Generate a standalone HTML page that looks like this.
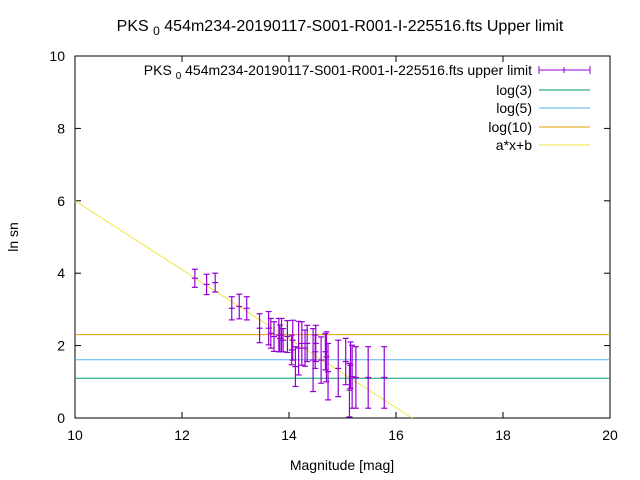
<!DOCTYPE html>
<html><head><meta charset="utf-8"><style>
body{margin:0;background:#fff}
svg{display:block;font-family:"Liberation Sans",sans-serif}
</style></head><body>
<svg id="chart" width="640" height="480" viewBox="0 0 640 480">
<text x="340" y="31" font-size="16" text-anchor="middle">PKS <tspan font-size="12" dy="4">0</tspan><tspan dy="-4"> 454m234-20190117-S001-R001-I-225516.fts Upper limit</tspan></text>
<text transform="translate(18,237) rotate(-90)" font-size="14" text-anchor="middle">ln sn</text>
<text x="342" y="470" font-size="14" text-anchor="middle">Magnitude [mag]</text>
<g id="axes"></g>
<g id="lines"></g>
<g id="points"></g>
<g id="legend">
<text x="532" y="75" font-size="14" text-anchor="end">PKS <tspan font-size="10" dy="4">0</tspan><tspan dy="-4"> 454m234-20190117-S001-R001-I-225516.fts upper limit</tspan></text>
<line x1="539" y1="70" x2="590" y2="70" stroke="#9400d3"/><line x1="539" y1="66" x2="539" y2="74" stroke="#9400d3"/><line x1="590" y1="66" x2="590" y2="74" stroke="#9400d3"/><line x1="564" y1="67" x2="564" y2="73" stroke="#9400d3"/>
<text x="532" y="95" font-size="14" text-anchor="end">log(3)</text><line x1="539" y1="90" x2="590" y2="90" stroke="#009e73"/>
<text x="532" y="113" font-size="14" text-anchor="end">log(5)</text><line x1="539" y1="108" x2="590" y2="108" stroke="#56b4e9"/>
<text x="532" y="132" font-size="14" text-anchor="end">log(10)</text><line x1="539" y1="127" x2="590" y2="127" stroke="#e69f00"/>
<text x="532" y="150" font-size="14" text-anchor="end">a*x+b</text><line x1="539" y1="145" x2="590" y2="145" stroke="#f0e442"/>
</g>
</svg>
<script>
const xTicks=[10,12,14,16,18,20];
const yTicks=[0,2,4,6,8,10];
const mags=[12.24,12.46,12.62,12.93,13.07,13.21,13.45,13.62,13.66,13.72,13.81,13.83,13.86,13.89,13.97,14.05,14.07,14.12,14.18,14.24,14.30,14.34,14.45,14.49,14.50,14.60,14.68,14.70,14.73,14.92,15.06,15.13,15.15,15.18,15.25,15.48,15.78];
const vals=[3.86,3.69,3.74,3.03,3.08,3.03,2.48,2.48,2.34,2.25,2.29,2.2,2.29,2.15,2.25,1.88,2.15,1.42,1.93,2.06,1.93,2.06,1.6,1.83,2.06,1.6,1.83,1.69,1.28,1.37,1.56,0.77,1.46,1.14,1.12,1.12,1.12];
const errs=[0.25,0.28,0.26,0.32,0.34,0.32,0.40,0.46,0.41,0.41,0.46,0.37,0.46,0.32,0.44,0.41,0.55,0.55,0.74,0.6,0.5,0.5,0.87,0.46,0.5,0.64,0.5,0.69,0.78,0.78,0.64,0.74,0.64,0.87,0.85,0.85,0.85];
const fitA=-0.952, fitB=15.52;
const hLines=[Math.log(10),Math.log(5),Math.log(3)];
const hColors=["#e69f00","#56b4e9","#009e73"];
const hNames=["log10-line","log5-line","log3-line"];
const L=75,R=610,T=56,B=418;
const sx=v=>L+(v-10)/10*(R-L);
const sy=v=>B-v/10*(B-T);
const NS="http://www.w3.org/2000/svg";
function mk(p,tag,at){const e=document.createElementNS(NS,tag);for(const k in at)e.setAttribute(k,at[k]);p.appendChild(e);return e;}
const ax=document.getElementById('axes');
const fr=mk(ax,'rect',{x:L,y:T,width:R-L,height:B-T,fill:'none',stroke:'#000'});


xTicks.forEach(t=>{const x=sx(t);
mk(ax,'line',{x1:x,y1:B,x2:x,y2:B-6,stroke:'#000'});mk(ax,'line',{x1:x,y1:T,x2:x,y2:T+6,stroke:'#000'});
const tx=mk(ax,'text',{x:x,y:B+22,'font-size':14,'text-anchor':'middle'});tx.textContent=t;

});
yTicks.forEach(t=>{const y=sy(t);
mk(ax,'line',{x1:L,y1:y,x2:L+6,y2:y,stroke:'#000'});mk(ax,'line',{x1:R,y1:y,x2:R-6,y2:y,stroke:'#000'});
const tx=mk(ax,'text',{x:L-10,y:y+5,'font-size':14,'text-anchor':'end'});tx.textContent=t;

});
const ln=document.getElementById('lines');
hLines.forEach((v,i)=>{const l=mk(ln,'line',{x1:L,x2:R,y1:sy(v),y2:sy(v),stroke:hColors[i]});

});
const x0=10,x1=-fitB/fitA;
const fl=mk(ln,'line',{x1:sx(x0),y1:sy(fitA*x0+fitB),x2:sx(x1),y2:sy(0),stroke:'#f0e442'});


const pg=document.getElementById('points');
mags.forEach((m,i)=>{const g=mk(pg,'g',{stroke:'#9400d3','stroke-width':1.2});


const x=sx(m),y=sy(vals[i]),y1=sy(vals[i]+errs[i]),y2=sy(vals[i]-errs[i]);
mk(g,'line',{x1:x,x2:x,y1:y1,y2:y2});
mk(g,'line',{x1:x-3,x2:x+3,y1:y1,y2:y1});
mk(g,'line',{x1:x-3,x2:x+3,y1:y2,y2:y2});
mk(g,'line',{x1:x-3,x2:x+3,y1:y,y2:y});});
</script>
</body></html>
